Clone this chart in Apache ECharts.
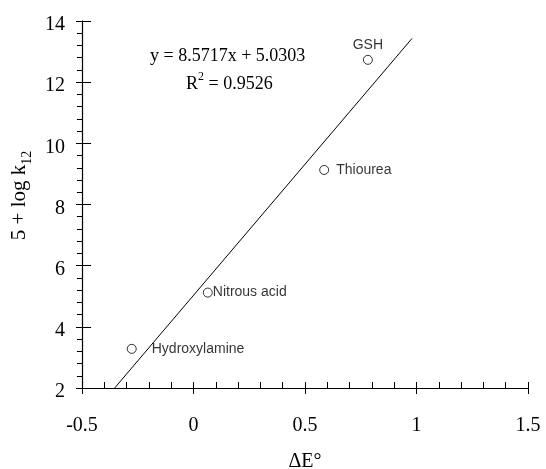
<!DOCTYPE html>
<html>
<head>
<meta charset="utf-8">
<script src="https://cdn.jsdelivr.net/npm/echarts@6/dist/echarts.min.js"></script>
<style>
    html, body { margin: 0; padding: 0; background: #fff; }
    #main { width: 546px; height: 469px; }
</style>
</head>
<body>
<div id="main"></div>
<script>
// compounds and their values
const names = ['GSH', 'Thiourea', 'Nitrous acid', 'Hydroxylamine'];
const deltaE = [0.782, 0.586, 0.064, -0.277];
const logK = [12.73, 9.13, 5.12, 3.28];
// regression line ends (y = 8.5717x + 5.0303)
const fitX = [-0.3535, 0.98];
const fitY = [2, 13.43];

// label placement for each point
const labelPos = ['top', 'right', 'right', 'right'];
const labelDist = [3, 7, 0, 15];

const serif = 'Liberation Serif';
const sans = 'Liberation Sans';

const box = document.getElementById('main')
const myChart = echarts.init(box)

const points = names.map((n, i) => ({
    name: n,
    value: [deltaE[i], logK[i]],
    label: { position: labelPos[i], distance: labelDist[i] }
}))

const axisLine = { show: true, onZero: false, lineStyle: { color: '#000', width: 1.2 } }

let option = {
    animation: false,
    grid: { left: 82, right: 18, top: 21, bottom: 81, outerBoundsMode: 'none', containLabel: false },
    xAxis: [
        {
            type: 'value', position: 'bottom',
            min: -0.5, max: 1.5, interval: 0.5,
            axisLine,
            axisTick: { inside: true, length: 6, lineStyle: { color: '#000' } },
            minorTick: { show: true, splitNumber: 5, length: 6, lineStyle: { color: '#000' } },
            splitLine: { show: false },
            axisLabel: { color: '#000', fontFamily: serif, fontSize: 20, margin: 28 },
            name: 'ΔE°',
            nameLocation: 'middle',
            nameGap: 64,
            nameTextStyle: { color: '#000', fontFamily: serif, fontSize: 20 }
        },
        {
            type: 'value', position: 'bottom',
            min: -0.5, max: 1.5, interval: 0.5,
            axisLine: { show: false, onZero: false },
            axisTick: { inside: false, length: 6, lineStyle: { color: '#000' } },
            splitLine: { show: false },
            axisLabel: { show: false }
        }
    ],
    yAxis: [
        {
            type: 'value', position: 'left',
            min: 2, max: 14, interval: 2,
            axisLine,
            axisTick: { inside: false, length: 6, lineStyle: { color: '#000' } },
            minorTick: { show: true, splitNumber: 5, length: 5, lineStyle: { color: '#000' } },
            splitLine: { show: false },
            axisLabel: {
                color: '#000', fontFamily: serif, fontSize: 20, margin: 17,
                formatter: '{t|{value}}',
                rich: { t: { fontFamily: serif, fontSize: 20, color: '#000', padding: [8, 0, 0, 0] } }
            },
            name: '5 + log k{sub|12}',
            nameLocation: 'middle',
            nameGap: 46,
            nameTextStyle: {
                color: '#000', fontFamily: serif, fontSize: 21, lineHeight: 30,
                padding: [0, 0, 0, 18],
                rich: {
                    sub: { fontFamily: serif, fontSize: 14, verticalAlign: 'bottom', lineHeight: 14 }
                }
            }
        },
        {
            type: 'value', position: 'left',
            min: 2, max: 14, interval: 2,
            axisLine: { show: false, onZero: false },
            axisTick: { inside: true, length: 9, lineStyle: { color: '#000' } },
            splitLine: { show: false },
            axisLabel: { show: false }
        }
    ],
    graphic: [
        {
            type: 'text', left: 150, top: 47,
            style: { text: 'y = 8.5717x + 5.0303', fill: '#000', font: '18px "Liberation Serif"' }
        },
        {
            type: 'text', left: 186, top: 71,
            style: {
                text: 'R{sup|2} = 0.9526',
                fill: '#000',
                font: '18px "Liberation Serif"',
                lineHeight: 26,
                rich: {
                    sup: { fontFamily: serif, fontSize: 12, verticalAlign: 'top', lineHeight: 12 }
                }
            }
        }
    ],
    series: [
        {
            type: 'line',
            xAxisIndex: 0, yAxisIndex: 0,
            data: fitX.map((x, i) => [x, fitY[i]]),
            symbol: 'none',
            lineStyle: { color: '#000', width: 1 },
            z: 2
        },
        {
            type: 'scatter',
            xAxisIndex: 0, yAxisIndex: 0,
            data: points,
            symbol: 'circle',
            symbolSize: 9,
            itemStyle: { color: '#fff', borderColor: '#000', borderWidth: 1 },
            label: {
                show: true,
                formatter: '{b}',
                color: '#000',
                fontFamily: sans,
                fontSize: 14
            },
            z: 3
        }
    ]
};
myChart.setOption(option)
</script>
</body>
</html>
